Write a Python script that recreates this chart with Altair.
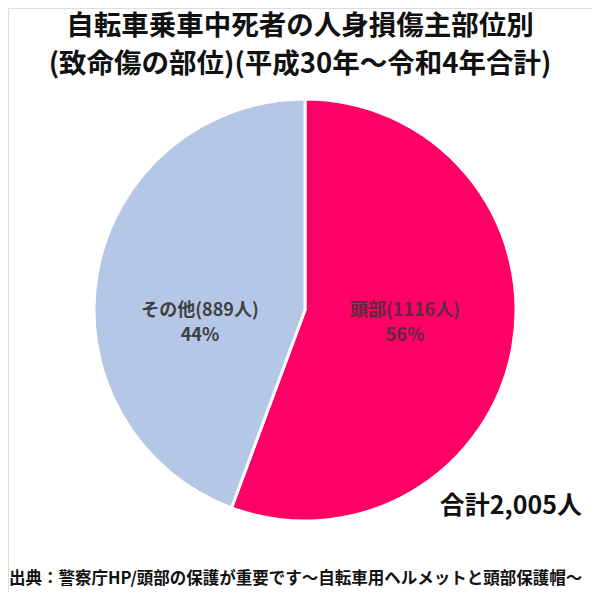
import altair as alt
import pandas as pd

categories = ["頭部", "その他"]
counts = [1116, 889]
percents = ["56%", "44%"]
colors = ["#FF0066", "#B4C7E7"]
label_colors = ["#5E2A40", "#404040"]

title_lines = ["自転車乗車中死者の人身損傷主部位別", "(致命傷の部位)(平成30年〜令和4年合計)"]
total_text = "合計2,005人"
source_text = "出典：警察庁HP/頭部の保護が重要です〜自転車用ヘルメットと頭部保護帽〜"

FONT = "Noto Sans CJK JP"

df = pd.DataFrame({
    "cat": categories,
    "count": counts,
    "order": list(range(len(categories))),
    "label": [f"{c}({n}人)\n{p}" for c, n, p in zip(categories, counts, percents)],
})

W, H = 584, 584
cx, cy, R = 297, 302, 211

pie = alt.Chart(df).mark_arc(stroke="white", strokeWidth=3, radius=R).encode(
    theta=alt.Theta("count:Q", stack=True),
    order=alt.Order("order:Q"),
    color=alt.Color("cat:N", scale=alt.Scale(domain=categories, range=colors), legend=None),
    x=alt.value(cx),
    y=alt.value(cy),
)

lab_pos = {"頭部": (397, 303), "その他": (192, 303)}
labels = []
for i, c in enumerate(categories):
    sub = df[df["cat"] == c]
    labels.append(
        alt.Chart(sub).mark_text(
            font=FONT, fontSize=18, fontWeight="bold", color=label_colors[i],
            lineBreak="\n", lineHeight=25, align="center", baseline="middle",
        ).encode(text="label:N", x=alt.value(lab_pos[c][0]), y=alt.value(lab_pos[c][1]))
    )

title_y = [19, 57]
titles = []
for t, yy in zip(title_lines, title_y):
    titles.append(
        alt.Chart(pd.DataFrame({"t": [t]})).mark_text(
            font=FONT, fontSize=27.5, fontWeight="bold", color="#111111", align="center", baseline="middle",
        ).encode(text="t:N", x=alt.value(W / 2), y=alt.value(yy))
    )

total = alt.Chart(pd.DataFrame({"t": [total_text]})).mark_text(
    font=FONT, fontSize=25, fontWeight="bold", color="#111111", align="right", baseline="middle",
).encode(text="t:N", x=alt.value(574), y=alt.value(498))

source = alt.Chart(pd.DataFrame({"t": [source_text]})).mark_text(
    font=FONT, fontSize=16.5, fontWeight="bold", color="#111111", align="left", baseline="middle",
).encode(text="t:N", x=alt.value(1), y=alt.value(571))

chart = alt.layer(pie, *labels, *titles, total, source).properties(
    width=W, height=H, autosize=alt.AutoSizeParams(type="none"), padding=0,
).configure_view(stroke=None).configure(background="white")

chart.save("out.html", embed_options={"renderer": "svg", "actions": False})
